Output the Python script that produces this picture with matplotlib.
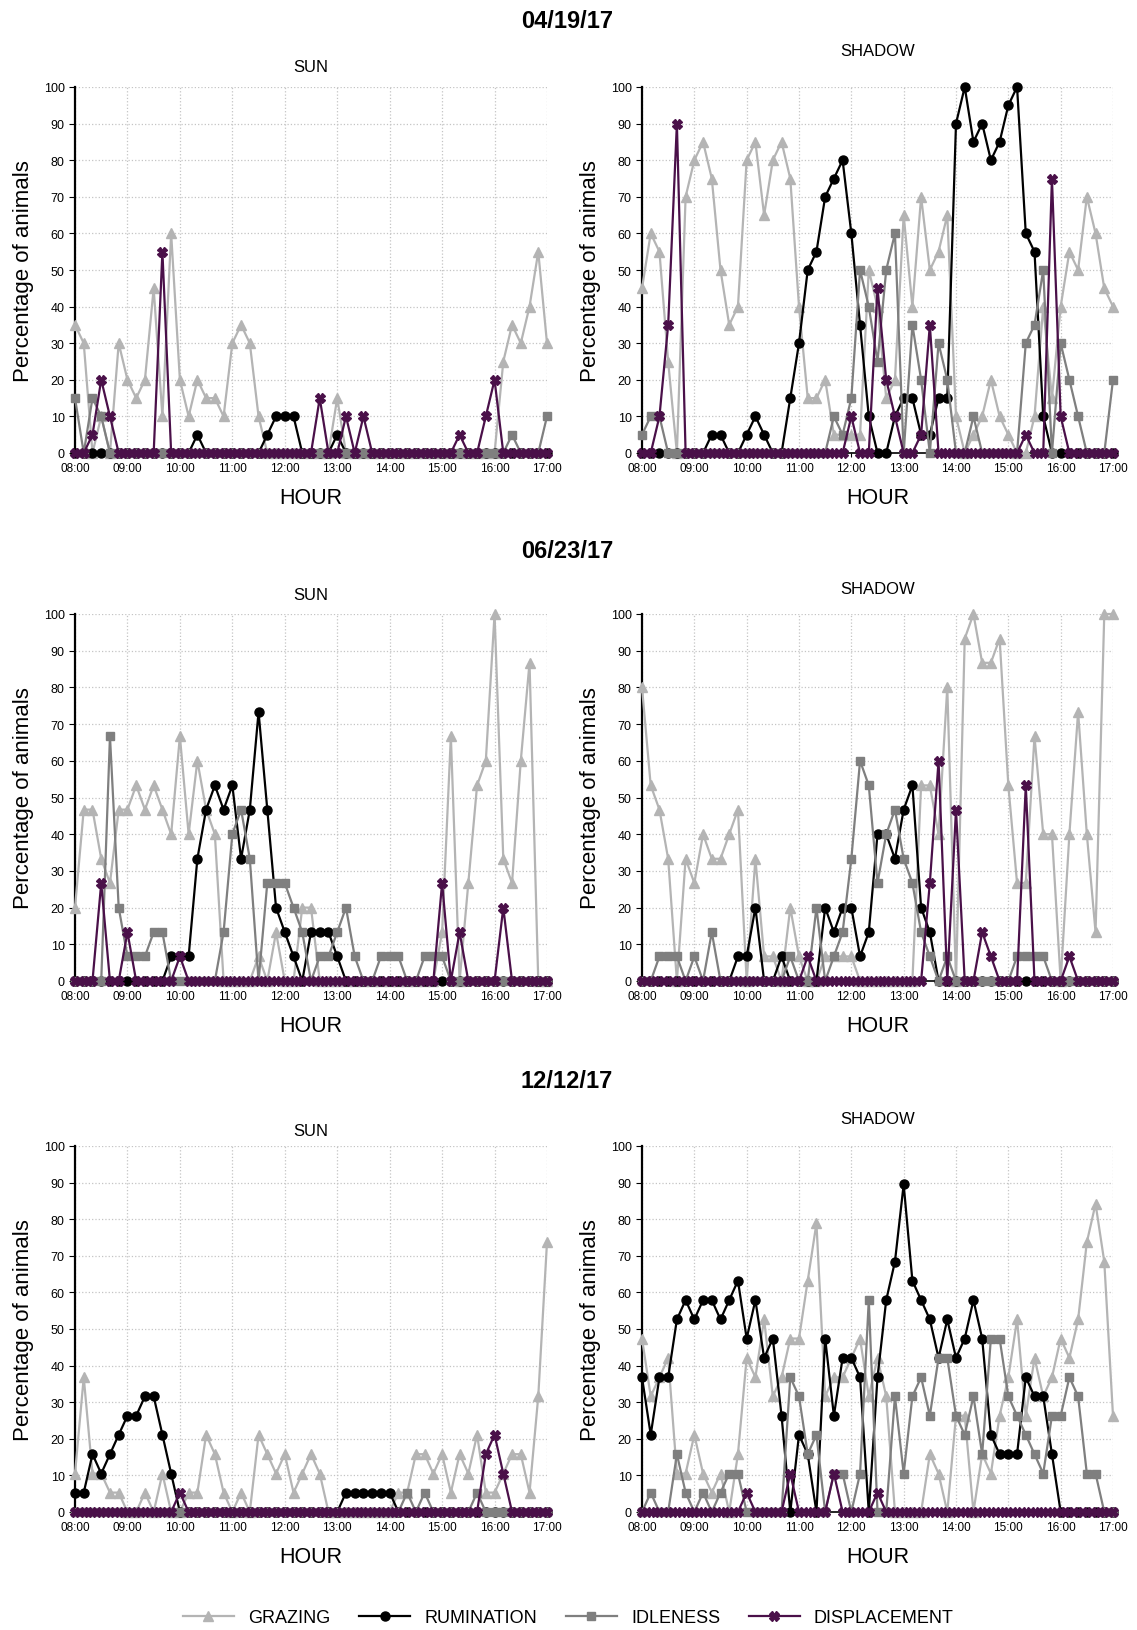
import matplotlib.pyplot as plt
import numpy as np

plt.rcParams['font.family'] = ['Liberation Sans', 'DejaVu Sans']

# time axis: every 10 minutes from 08:00 to 17:00 (55 points)
hours = ['08:00', '09:00', '10:00', '11:00', '12:00', '13:00', '14:00', '15:00', '16:00', '17:00']
n_points = 55

# ---- 04/19/17 SUN ----
apr_sun_grazing = [35, 30, 0, 10, 0, 30, 20, 15, 20, 45, 10, 60, 20, 10, 20, 15, 15, 10,
                   30, 35, 30, 10, 0, 0, 0, 0, 0, 0, 0, 0, 15, 0, 0, 0, 0, 0,
                   0, 0, 0, 0, 0, 0, 0, 0, 0, 0, 0, 0, 0, 25, 35, 30, 40, 55, 30]
apr_sun_rumination = [0, 0, 0, 0, 0, 0, 0, 0, 0, 0, 0, 0, 0, 0, 5, 0, 0, 0,
                      0, 0, 0, 0, 5, 10, 10, 10, 0, 0, 0, 0, 5, 0, 0, 0, 0, 0,
                      0, 0, 0, 0, 0, 0, 0, 0, 0, 0, 0, 0, 0, 0, 0, 0, 0, 0, 0]
apr_sun_idleness = [15, 0, 15, 10, 0, 0, 0, 0, 0, 0, 0, 0, 0, 0, 0, 0, 0, 0,
                    0, 0, 0, 0, 0, 0, 0, 0, 0, 0, 0, 0, 0, 0, 0, 0, 0, 0,
                    0, 0, 0, 0, 0, 0, 0, 0, 0, 0, 0, 0, 0, 0, 5, 0, 0, 0, 10]
apr_sun_displacement = [0, 0, 5, 20, 10, 0, 0, 0, 0, 0, 55, 0, 0, 0, 0, 0, 0, 0,
                        0, 0, 0, 0, 0, 0, 0, 0, 0, 0, 15, 0, 0, 10, 0, 10, 0, 0,
                        0, 0, 0, 0, 0, 0, 0, 0, 5, 0, 0, 10, 20, 0, 0, 0, 0, 0, 0]

# ---- 04/19/17 SHADOW ----
apr_shadow_grazing = [45, 60, 55, 25, 0, 70, 80, 85, 75, 50, 35, 40, 80, 85, 65, 80, 85, 75,
                      40, 15, 15, 20, 5, 5, 5, 5, 50, 40, 15, 20, 65, 40, 70, 50, 55, 65,
                      10, 0, 5, 10, 20, 10, 5, 0, 0, 10, 40, 15, 40, 55, 50, 70, 60, 45, 40]
apr_shadow_rumination = [0, 0, 0, 0, 0, 0, 0, 0, 5, 5, 0, 0, 5, 10, 5, 0, 0, 15,
                         30, 50, 55, 70, 75, 80, 60, 35, 10, 0, 0, 10, 15, 15, 5, 5, 15, 15,
                         90, 100, 85, 90, 80, 85, 95, 100, 60, 55, 10, 0, 0, 0, 0, 0, 0, 0, 0]
apr_shadow_idleness = [5, 10, 10, 0, 0, 0, 0, 0, 0, 0, 0, 0, 0, 0, 0, 0, 0, 0,
                       0, 0, 0, 0, 10, 5, 15, 50, 40, 25, 50, 60, 0, 35, 20, 0, 30, 20,
                       0, 0, 10, 0, 0, 0, 0, 0, 30, 35, 50, 0, 30, 20, 10, 0, 0, 0, 20]
apr_shadow_displacement = [0, 0, 10, 35, 90, 0, 0, 0, 0, 0, 0, 0, 0, 0, 0, 0, 0, 0,
                           0, 0, 0, 0, 0, 0, 10, 0, 0, 45, 20, 10, 0, 0, 5, 35, 0, 0,
                           0, 0, 0, 0, 0, 0, 0, 0, 5, 0, 0, 75, 10, 0, 0, 0, 0, 0, 0]

# ---- 06/23/17 SUN ----
jun_sun_grazing = [20, 46.7, 46.7, 33.3, 26.7, 46.7, 46.7, 53.3, 46.7, 53.3, 46.7, 40,
                   66.7, 40, 60, 46.7, 40, 0, 0, 0, 0, 6.7, 0, 13.3,
                   0, 0, 20, 20, 0, 0, 0, 0, 0, 0, 0, 0, 0, 0, 0, 0, 0, 0,
                   13.3, 66.7, 0, 26.7, 53.3, 60, 100, 33.3, 26.7, 60, 86.7, 0, 0]
jun_sun_rumination = [0, 0, 0, 0, 0, 0, 0, 0, 0, 0, 0, 6.7,
                      6.7, 6.7, 33.3, 46.7, 53.3, 46.7, 53.3, 33.3, 46.7, 73.3, 46.7, 20,
                      13.3, 6.7, 0, 13.3, 13.3, 13.3, 6.7, 0, 0, 0, 0, 0, 0, 0, 0, 0, 0, 0,
                      0, 0, 0, 0, 0, 0, 0, 0, 0, 0, 0, 0, 0]
jun_sun_idleness = [0, 0, 0, 0, 66.7, 20, 6.7, 6.7, 6.7, 13.3, 13.3, 0,
                    0, 0, 0, 0, 0, 13.3, 40, 46.7, 33.3, 0, 26.7, 26.7,
                    26.7, 20, 13.3, 0, 6.7, 6.7, 13.3, 20, 6.7, 0, 0, 6.7, 6.7, 6.7, 0, 0, 6.7, 6.7,
                    6.7, 0, 0, 0, 0, 0, 0, 0, 0, 0, 0, 0, 0]
jun_sun_displacement = [0, 0, 0, 26.7, 0, 0, 13.3, 0, 0, 0, 0, 0,
                        6.7, 0, 0, 0, 0, 0, 0, 0, 0, 0, 0, 0,
                        0, 0, 0, 0, 0, 0, 0, 0, 0, 0, 0, 0, 0, 0, 0, 0, 0, 0,
                        26.7, 0, 13.3, 0, 0, 0, 0, 20, 0, 0, 0, 0, 0]

# ---- 06/23/17 SHADOW ----
jun_shadow_grazing = [80, 53.3, 46.7, 33.3, 0, 33.3, 26.7, 40, 33.3, 33.3, 40, 46.7,
                      0, 33.3, 6.7, 6.7, 0, 20, 6.7, 0, 0, 6.7, 6.7, 6.7,
                      6.7, 0, 0, 0, 0, 0, 0, 0, 53.3, 53.3, 40, 80, 0, 93.3, 100, 86.7, 86.7, 93.3,
                      53.3, 26.7, 26.7, 66.7, 40, 40, 0, 40, 73.3, 40, 13.3, 100, 100]
jun_shadow_rumination = [0, 0, 0, 0, 0, 0, 0, 0, 0, 0, 0, 6.7,
                         6.7, 20, 0, 0, 6.7, 0, 0, 0, 0, 20, 13.3, 20,
                         20, 6.7, 13.3, 40, 40, 33.3, 46.7, 53.3, 20, 13.3, 0, 0, 0, 0, 0, 0, 0, 0,
                         0, 0, 0, 0, 0, 0, 0, 0, 0, 0, 0, 0, 0]
jun_shadow_idleness = [0, 0, 6.7, 6.7, 6.7, 0, 6.7, 0, 13.3, 0, 0, 0,
                       0, 0, 0, 0, 0, 6.7, 0, 0, 20, 0, 6.7, 13.3,
                       33.3, 60, 53.3, 26.7, 40, 46.7, 33.3, 26.7, 13.3, 6.7, 0, 6.7, 0, 0, 0, 0, 0, 0,
                       0, 6.7, 6.7, 6.7, 6.7, 0, 0, 0, 0, 0, 0, 0, 0]
jun_shadow_displacement = [0, 0, 0, 0, 0, 0, 0, 0, 0, 0, 0, 0,
                           0, 0, 0, 0, 0, 0, 0, 6.7, 0, 0, 0, 0,
                           0, 0, 0, 0, 0, 0, 0, 0, 0, 26.7, 60, 0, 46.7, 0, 0, 13.3, 6.7, 0,
                           0, 0, 53.3, 0, 0, 0, 0, 6.7, 0, 0, 0, 0, 0]

# ---- 12/12/17 SUN ----
dec_sun_grazing = [10.5, 36.8, 10.5, 10.5, 5.3, 5.3, 0, 0, 5.3, 0, 10.5, 0,
                   0, 5.3, 5.3, 21.1, 15.8, 5.3, 0, 5.3, 0, 21.1, 15.8, 10.5,
                   15.8, 5.3, 10.5, 15.8, 10.5, 0, 0, 0, 0, 0, 0, 0, 0, 5.3, 5.3, 15.8, 15.8, 10.5,
                   15.8, 5.3, 15.8, 10.5, 21.1, 5.3, 5.3, 10.5, 15.8, 15.8, 5.3, 31.6, 73.7]
dec_sun_rumination = [5.3, 5.3, 15.8, 10.5, 15.8, 21.1, 26.3, 26.3, 31.6, 31.6, 21.1, 10.5,
                      0, 0, 0, 0, 0, 0, 0, 0, 0, 0, 0, 0,
                      0, 0, 0, 0, 0, 0, 0, 5.3, 5.3, 5.3, 5.3, 5.3, 5.3, 0, 0, 0, 0, 0,
                      0, 0, 0, 0, 0, 0, 0, 0, 0, 0, 0, 0, 0]
dec_sun_idleness = [0, 0, 0, 0, 0, 0, 0, 0, 0, 0, 0, 0,
                    0, 0, 0, 0, 0, 0, 0, 0, 0, 0, 0, 0,
                    0, 0, 0, 0, 0, 0, 0, 0, 0, 0, 0, 0, 0, 0, 5.3, 0, 5.3, 0,
                    0, 0, 0, 0, 5.3, 0, 0, 0, 0, 0, 0, 0, 0]
dec_sun_displacement = [0, 0, 0, 0, 0, 0, 0, 0, 0, 0, 0, 0,
                        5.3, 0, 0, 0, 0, 0, 0, 0, 0, 0, 0, 0,
                        0, 0, 0, 0, 0, 0, 0, 0, 0, 0, 0, 0, 0, 0, 0, 0, 0, 0,
                        0, 0, 0, 0, 0, 15.8, 21.1, 10.5, 0, 0, 0, 0, 0]

# ---- 12/12/17 SHADOW ----
dec_shadow_grazing = [47.4, 31.6, 36.8, 42.1, 10.5, 10.5, 21.1, 10.5, 5.3, 10.5, 0, 15.8,
                      42.1, 36.8, 52.6, 31.6, 36.8, 47.4, 47.4, 63.2, 78.9, 31.6, 36.8, 36.8,
                      42.1, 47.4, 31.6, 42.1, 31.6, 0, 0, 0, 0, 15.8, 10.5, 0, 26.3, 26.3, 0, 15.8, 10.5, 26.3,
                      36.8, 52.6, 26.3, 42.1, 31.6, 36.8, 47.4, 42.1, 52.6, 73.7, 84.2, 68.4, 26.3]
dec_shadow_rumination = [36.8, 21.1, 36.8, 36.8, 52.6, 57.9, 52.6, 57.9, 57.9, 52.6, 57.9, 63.2,
                         47.4, 57.9, 42.1, 47.4, 26.3, 0, 21.1, 15.8, 0, 47.4, 26.3, 42.1,
                         42.1, 36.8, 0, 36.8, 57.9, 68.4, 89.5, 63.2, 57.9, 52.6, 42.1, 52.6,
                         42.1, 47.4, 57.9, 47.4, 21.1, 15.8,
                         15.8, 15.8, 36.8, 31.6, 31.6, 15.8, 0, 0, 0, 0, 0, 0, 0]
dec_shadow_idleness = [0, 5.3, 0, 0, 15.8, 5.3, 0, 5.3, 0, 5.3, 10.5, 10.5,
                       0, 0, 0, 0, 0, 36.8, 31.6, 15.8, 21.1, 0, 10.5, 10.5,
                       0, 10.5, 57.9, 0, 0, 31.6, 10.5, 31.6, 36.8, 26.3, 42.1, 42.1,
                       26.3, 21.1, 31.6, 15.8, 47.4, 47.4,
                       31.6, 26.3, 21.1, 15.8, 10.5, 26.3, 26.3, 36.8, 31.6, 10.5, 10.5, 0, 0]
dec_shadow_displacement = [0, 0, 0, 0, 0, 0, 0, 0, 0, 0, 0, 0,
                           5.3, 0, 0, 0, 0, 10.5, 0, 0, 0, 0, 10.5, 0,
                           0, 0, 0, 5.3, 0, 0, 0, 0, 0, 0, 0, 0, 0, 0, 0, 0, 0, 0,
                           0, 0, 0, 0, 0, 0, 0, 0, 0, 0, 0, 0, 0]

styles = {
    'GRAZING': dict(color='#b4b4b4', marker='^', ms=6.5),
    'RUMINATION': dict(color='#000000', marker='o', ms=6.5),
    'IDLENESS': dict(color='#7f7f7f', marker='s', ms=6),
    'DISPLACEMENT': dict(color='#4a1049', marker='X', ms=7),
}

panels = [
    ('SUN', [apr_sun_grazing, apr_sun_rumination, apr_sun_idleness, apr_sun_displacement]),
    ('SHADOW', [apr_shadow_grazing, apr_shadow_rumination, apr_shadow_idleness, apr_shadow_displacement]),
    ('SUN', [jun_sun_grazing, jun_sun_rumination, jun_sun_idleness, jun_sun_displacement]),
    ('SHADOW', [jun_shadow_grazing, jun_shadow_rumination, jun_shadow_idleness, jun_shadow_displacement]),
    ('SUN', [dec_sun_grazing, dec_sun_rumination, dec_sun_idleness, dec_sun_displacement]),
    ('SHADOW', [dec_shadow_grazing, dec_shadow_rumination, dec_shadow_idleness, dec_shadow_displacement]),
]
dates = ['04/19/17', '06/23/17', '12/12/17']

W, H = 1137, 1631
fig = plt.figure(figsize=(W / 100, H / 100), dpi=100)

# axes boxes in pixels: (left, right) columns and (top, bottom) rows
cols = [(75, 547), (642, 1113)]
rows = [(88, 454), (615, 982), (1147, 1513)]
sub_y = [(68, 52), (596, 590), (1132, 1119)]
date_y = [21, 551, 1082]

x = np.arange(n_points)
handles = []
for i, (name, series) in enumerate(panels):
    r, c = divmod(i, 2)
    (x0, x1), (y0, y1) = cols[c], rows[r]
    ax = fig.add_axes([x0 / W, 1 - y1 / H, (x1 - x0) / W, (y1 - y0) / H])
    for label, vals in zip(styles, series):
        st = styles[label]
        h, = ax.plot(x, vals, color=st['color'], lw=1.6, marker=st['marker'],
                     ms=st['ms'], mec=st['color'], mfc=st['color'], clip_on=False,
                     label=label, zorder=3)
        if i == 0:
            handles.append(h)
    ax.set_xlim(0, 54)
    ax.set_ylim(0, 100)
    ax.set_xticks(np.arange(0, 55, 6))
    ax.set_xticklabels(hours, fontsize=8.5)
    ax.set_yticks(np.arange(0, 101, 10))
    ax.tick_params(axis='y', labelsize=9, length=4)
    ax.tick_params(axis='x', length=3)
    ax.grid(True, ls=':', color='#c4c4c4', lw=0.9)
    for s in ['top', 'right']:
        ax.spines[s].set_visible(False)
    ax.spines['left'].set_linewidth(1.6)
    ax.spines['bottom'].set_linewidth(1.2)
    ax.set_ylabel('Percentage of animals', fontsize=16, labelpad=7)
    ax.set_xlabel('HOUR', fontsize=15.5, labelpad=9)
    fig.text((x0 + x1) / 2 / W, 1 - sub_y[r][c] / H, name, ha='center', va='center', fontsize=12)

for r, d in enumerate(dates):
    fig.text(567 / W, 1 - date_y[r] / H, d, ha='center', va='center', fontsize=17, fontweight='bold')

fig.legend(handles=handles, loc='center', bbox_to_anchor=(0.5, 1 - 1619 / H), ncol=4,
           frameon=False, fontsize=13, handlelength=2.8, columnspacing=1.6)

fig.savefig('out.png', dpi=100)
